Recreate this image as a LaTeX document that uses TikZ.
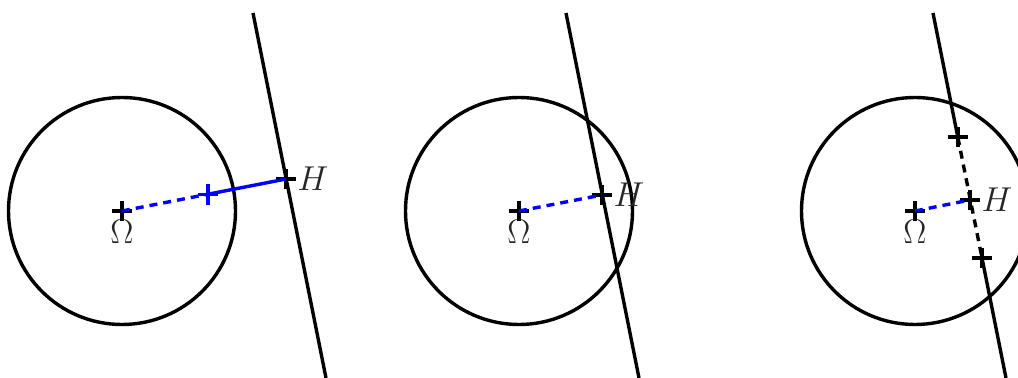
\documentclass[tikz,border=0pt]{standalone}
\usepackage{xcolor}
\usetikzlibrary{shapes.misc,positioning,calc}

\tikzset{
  plusmk/.style={cross out,draw,line width=1.7pt,minimum size=5.6pt,inner sep=0pt,rotate=45},
  blueline/.style={blue,line width=1.7pt},
  txt/.style={inner sep=0pt,text=black!85,font=\fontsize{17}{20}\selectfont}
}

\begin{document}
\begin{tikzpicture}[x=0.5pt,y=-0.5pt,line width=1.7pt]
\useasboundingbox (0,0) rectangle (1018,378);
% circle, line and projection H in each panel
\foreach \i/\cx/\tx/\bx/\hx/\hy in {1/122/253/326/286/179,2/519/566/639/602/195,3/915/933/1006/970/200} {
  \coordinate (o\i) at (\cx,211);
  \coordinate (t\i) at (\tx,13);
  \coordinate (b\i) at (\bx,378);
  \coordinate (h\i) at (\hx,\hy);
  \draw (o\i) circle[radius=113.5];
  \node[plusmk] (om\i) at (o\i) {};
  \node[plusmk] (hm\i) at (h\i) {};
  \node[txt,below=3.5pt of o\i] (lo\i) {$\Omega$};
  \node[txt,right=5pt of h\i] (lh\i) {$H$};
}
\draw (t1) -- (b1);
\draw (t2) -- (b2);
% panel 3: line broken by two marks
\node[plusmk] (p1) at ($(t3)!0.34!(b3)$) {};
\node[plusmk] (p2) at ($(t3)!0.671!(b3)$) {};
\draw (t3) -- (p1.center);
\draw[dash pattern=on 4pt off 3pt] (p1.center) -- (p2.center);
\draw (p2.center) -- (b3);
% blue segments
\node[plusmk,blue] (s1) at ($(o1)!0.524!(h1)$) {};
\draw[blueline,dash pattern=on 4pt off 3pt] (o1) -- (s1.center);
\draw[blueline] (s1.center) -- (h1);
\draw[blueline,dash pattern=on 4pt off 3pt] (o2) -- (h2);
\draw[blueline,dash pattern=on 4pt off 3pt] (o3) -- (h3);
\end{tikzpicture}
\end{document}
